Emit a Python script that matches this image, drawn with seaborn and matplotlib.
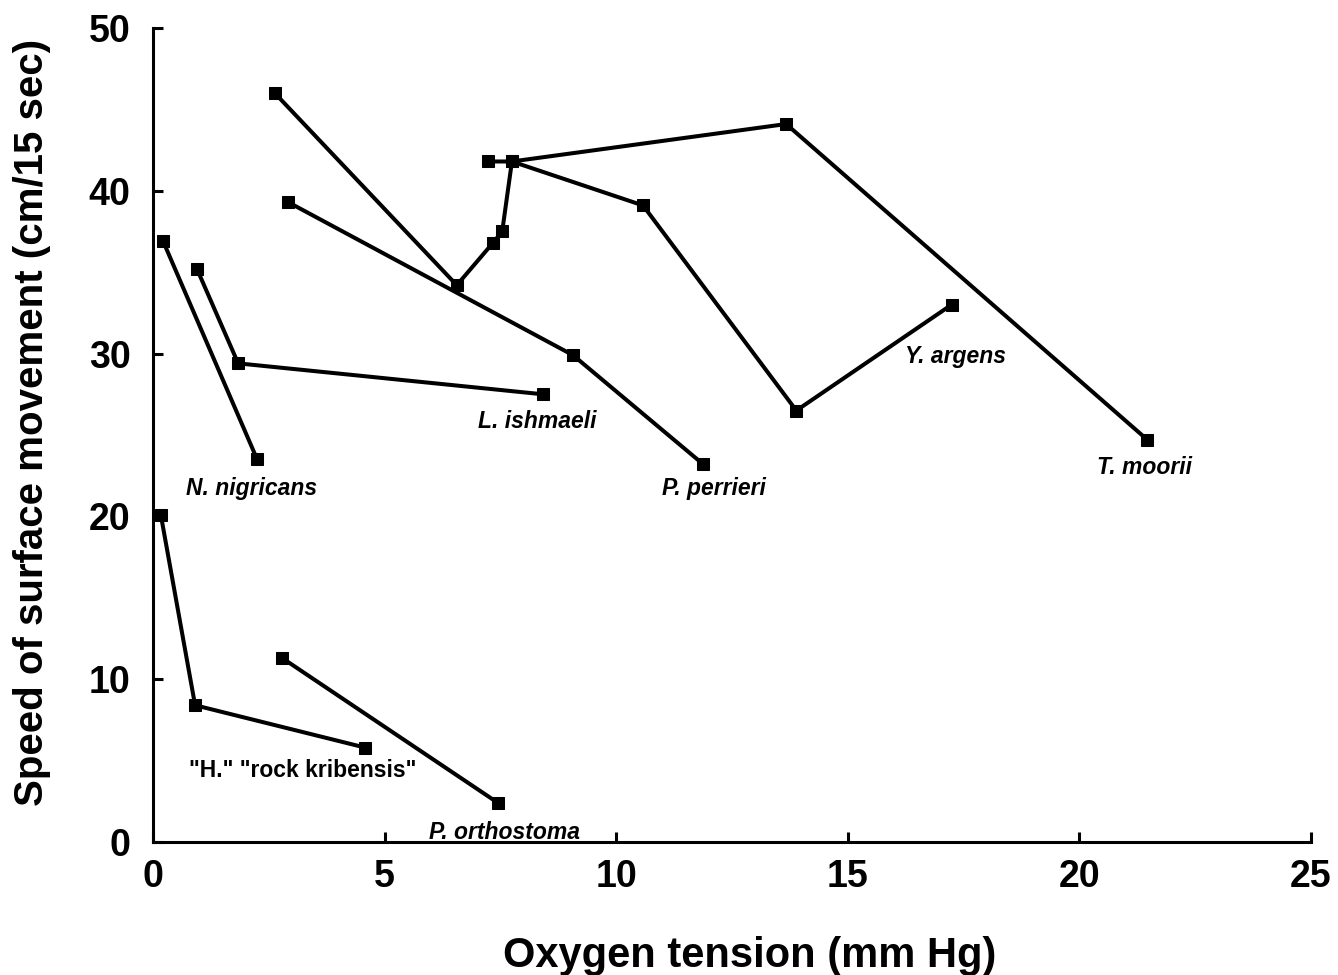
import matplotlib
matplotlib.use("Agg")
import matplotlib.pyplot as plt
import seaborn as sns
import pandas as pd

# ---- data ----
t_moorii_x = [2.63, 6.56, 7.34, 7.54, 7.75, 13.67, 21.47]
t_moorii_y = [46.0, 34.2, 36.8, 37.5, 41.8, 44.1, 24.7]

y_argens_x = [7.24, 7.75, 10.58, 13.89, 17.24]
y_argens_y = [41.8, 41.8, 39.1, 26.5, 33.0]

p_perrieri_x = [2.92, 9.07, 11.88]
p_perrieri_y = [39.3, 29.9, 23.2]

l_ishmaeli_x = [0.95, 1.84, 8.42]
l_ishmaeli_y = [35.2, 29.4, 27.5]

n_nigricans_x = [0.22, 2.25]
n_nigricans_y = [36.9, 23.5]

h_kribensis_x = [0.17, 0.91, 4.58]
h_kribensis_y = [20.1, 8.4, 5.8]

p_orthostoma_x = [2.79, 7.45]
p_orthostoma_y = [11.3, 2.4]

species = ["T. moorii", "Y. argens", "P. perrieri", "L. ishmaeli",
           "N. nigricans", '"H." "rock kribensis"', "P. orthostoma"]
label_x = [21.4, 17.32, 12.11, 8.29, 2.12, 3.24, 7.6]
label_y = [23.0, 29.8, 21.7, 25.8, 21.7, 4.4, 0.6]
label_italic = [True, True, True, True, True, False, True]

xticks = [0, 5, 10, 15, 20, 25]
yticks = [0, 10, 20, 30, 40, 50]

series = [
    (t_moorii_x, t_moorii_y),
    (y_argens_x, y_argens_y),
    (p_perrieri_x, p_perrieri_y),
    (l_ishmaeli_x, l_ishmaeli_y),
    (n_nigricans_x, n_nigricans_y),
    (h_kribensis_x, h_kribensis_y),
    (p_orthostoma_x, p_orthostoma_y),
]

sns.set_style("white")
plt.rcParams['font.family'] = ['Liberation Sans', 'DejaVu Sans']
plt.rcParams['text.color'] = 'black'
plt.rcParams['axes.labelcolor'] = 'black'
plt.rcParams['xtick.color'] = 'black'
plt.rcParams['ytick.color'] = 'black'

fig = plt.figure(figsize=(13.38, 9.75), dpi=100)
ax = fig.add_axes([0.1143, 0.1364, 0.8655, 0.8349])

for name, (xs, ys) in zip(species, series):
    df = pd.DataFrame({"x": xs, "y": ys})
    sns.lineplot(data=df, x="x", y="y", sort=False, ax=ax, color="black",
                 linewidth=2.9, marker="s", markersize=9,
                 markeredgecolor="black", markerfacecolor="black",
                 estimator=None)

for name, lx, ly, it in zip(species, label_x, label_y, label_italic):
    ax.text(lx, ly, name, ha="center", va="center", fontsize=16.5,
            fontweight="bold", fontstyle="italic" if it else "normal",
            color="black")

ax.set_xlim(0, 25)
ax.set_ylim(0, 50)
ax.set_xticks(xticks)
ax.set_yticks(yticks)
ax.tick_params(axis="both", direction="in", length=7, width=2.2,
               labelsize=27, bottom=True, left=True, colors="black")
ax.tick_params(axis="x", pad=12)
ax.tick_params(axis="y", pad=16)
for lab in ax.get_xticklabels() + ax.get_yticklabels():
    lab.set_fontweight("bold")

for s in ["top", "right"]:
    ax.spines[s].set_visible(False)
for s in ["left", "bottom"]:
    ax.spines[s].set_linewidth(2.2)
    ax.spines[s].set_color("black")

ax.set_xlabel("Oxygen tension (mm Hg)", fontsize=30, fontweight="bold",
              labelpad=30, color="black", x=0.5155)
ax.set_ylabel("Speed of surface movement (cm/15 sec)", fontsize=29,
              fontweight="bold", labelpad=27, color="black", y=0.516)

fig.savefig("out.png", dpi=100, facecolor="white")
